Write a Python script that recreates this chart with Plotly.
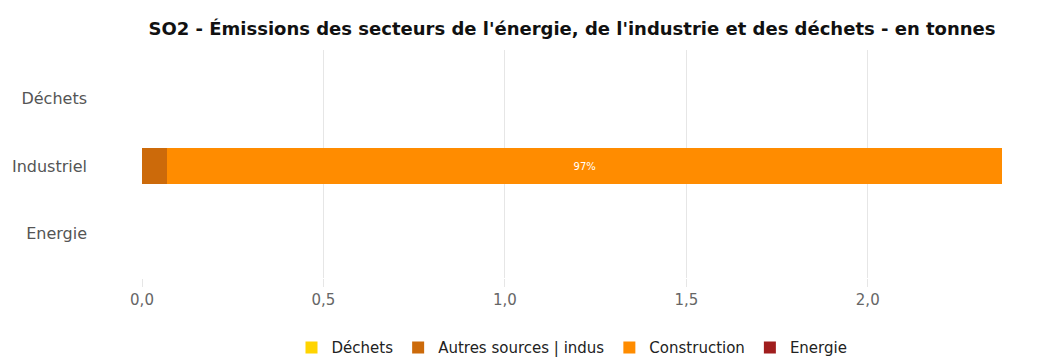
import plotly.graph_objects as go

categories = ["Energie", "Industriel", "Déchets"]
series_names = ["Déchets", "Autres sources | indus", "Construction", "Energie"]
series_colors = ["#FFD400", "#CC6A0A", "#FF8C00", "#A01E1E"]
# values per category (Energie, Industriel, Déchets)
dechets_vals = [None, None, 0.0]
autres_vals = [None, 0.07, None]
construction_vals = [None, 2.30, None]
energie_vals = [0.0, None, None]
series_values = [dechets_vals, autres_vals, construction_vals, energie_vals]

totals = [sum(v[i] or 0 for v in series_values) for i in range(len(categories))]

FONT = "DejaVu Sans"

fig = go.Figure()
for name, color, vals in zip(series_names, series_colors, series_values):
    texts = []
    for i, v in enumerate(vals):
        if v is None or totals[i] == 0:
            texts.append("")
        else:
            p = v / totals[i] * 100
            texts.append(f"{p:.0f}%" if p >= 10 else "")
    fig.add_trace(go.Bar(
        y=categories, x=vals, name=name, orientation="h",
        marker=dict(color=color, line=dict(width=0)),
        text=texts, textposition="inside", insidetextanchor="middle",
        textfont=dict(color="white", size=10, family=FONT),
        hoverinfo="x+name",
    ))

fig.update_layout(
    barmode="stack",
    bargap=0.48,
    width=1039, height=351,
    margin=dict(l=134, r=45, t=42, b=81),
    paper_bgcolor="white", plot_bgcolor="white",
    separators=",.",
    font=dict(family=FONT, color="#555"),
    title=dict(
        text="<b>SO2 - Émissions des secteurs de l'énergie, de l'industrie et des déchets - en tonnes</b>",
        x=0.5, xref="paper", xanchor="center", y=0.941, yref="container", yanchor="middle",
        font=dict(size=18, color="#111", family=FONT),
    ),
    xaxis=dict(
        range=[0, max(totals)],
        tickformat=".1f", dtick=0.5, showgrid=True, gridcolor="#e6e6e6", gridwidth=1,
        zeroline=False, showline=False, ticks="outside", ticklen=8, tickcolor="#e6e6e6",
        tickfont=dict(size=15, color="#666"), automargin=False,
    ),
    yaxis=dict(
        categoryorder="array", categoryarray=categories, range=[-0.66, 2.72],
        showgrid=False, zeroline=False, showline=False, ticks="",
        ticklabelstandoff=54, tickfont=dict(size=16, color="#555"), automargin=False,
    ),
    legend=dict(
        orientation="h", x=0.5, xanchor="center", xref="paper",
        y=0.032, yref="container", yanchor="middle",
        font=dict(size=15, color="#222"), traceorder="normal",
        itemwidth=30,
    ),
)

fig.write_html("out.html")
